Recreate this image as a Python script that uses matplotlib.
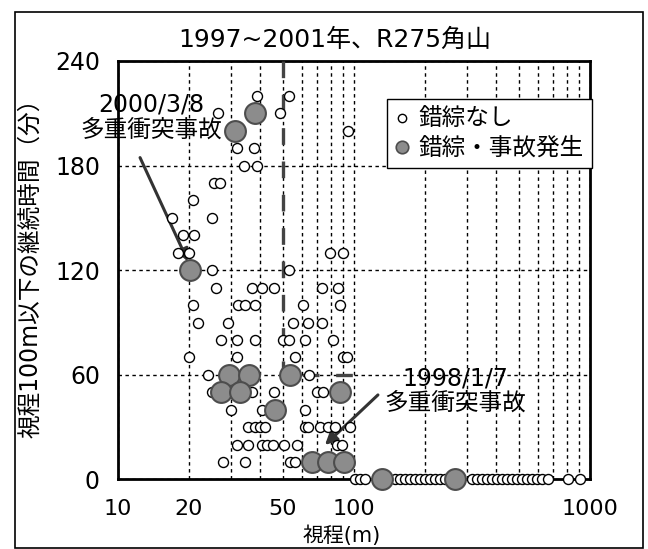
import matplotlib
matplotlib.use('Agg')
import matplotlib.pyplot as plt
from matplotlib.lines import Line2D
from matplotlib.patches import Rectangle
from matplotlib.ticker import NullFormatter

plt.rcParams['font.family'] = ['DejaVu Sans', 'Noto Sans CJK JP']

# 錯綜なし : 視程(m) と 継続時間(分)
nashi_vis = [38.8, 53.0,
             26.5, 48.6,
             94.3,
             31.9, 37.7,
             34.2, 38.8,
             25.5, 27.1,
             20.8,
             16.9, 25.0,
             18.9, 21.0,
             18.0, 20.0, 79.1, 89.8,
             25.0, 53.0,
             26.0, 37.0, 40.8, 45.8, 73.2, 85.6,
             20.8, 32.3, 34.5, 38.1, 60.8, 87.2,
             21.8, 29.3, 55.1, 63.8, 73.2,
             27.3, 31.9, 38.1, 50.0, 53.0, 62.0, 81.5,
             20.0, 31.9, 56.2, 89.8, 93.4,
             24.1, 64.5,
             25.0, 37.0, 45.8, 69.7, 73.9,
             30.1, 40.8, 62.0,
             35.6, 38.1, 40.0, 42.0, 62.0, 63.8, 71.8, 77.6, 83.1, 96.2,
             31.9, 35.6, 40.8, 42.8, 45.4, 50.5, 57.3, 84.7, 88.9,
             27.9, 34.5, 53.6, 56.2,
             101, 106, 111, 149, 157, 164, 173, 181, 190, 200, 210,
             220, 231, 243, 316, 332, 349, 366, 385, 404, 424, 445,
             467, 491, 515, 541, 568, 596, 626, 664, 807, 907]
nashi_dur = [220, 220,
             210, 210,
             200,
             190, 190,
             180, 180,
             170, 170,
             160,
             150, 150,
             140, 140,
             130, 130, 130, 130,
             120, 120,
             110, 110, 110, 110, 110, 110,
             100, 100, 100, 100, 100, 100,
             90, 90, 90, 90, 90,
             80, 80, 80, 80, 80, 80, 80,
             70, 70, 70, 70, 70,
             60, 60,
             50, 50, 50, 50, 50,
             40, 40, 40,
             30, 30, 30, 30, 30, 30, 30, 30, 30, 30,
             20, 20, 20, 20, 20, 20, 20, 20, 20,
             10, 10, 10, 10,
             0, 0, 0, 0, 0, 0, 0, 0, 0, 0, 0,
             0, 0, 0, 0, 0, 0, 0, 0, 0, 0, 0,
             0, 0, 0, 0, 0, 0, 0, 0, 0, 0]

# 錯綜・事故発生
acc_vis = [38.1, 31.3, 20.2, 29.5, 35.9, 53.6, 27.3, 32.9, 87.2, 46.3,
           66.4, 77.6, 90.7, 131, 268]
acc_dur = [210, 200, 120, 60, 60, 60, 50, 50, 50, 40,
           10, 10, 10, 0, 0]

# 閾値 (視程50m, 60分)
thr_vis = [50, 50, 108]
thr_dur = [240, 60, 60]

xtick_vals = [10, 20, 50, 100, 1000]
xgrid_vals = [30, 40, 60, 70, 80, 90, 200, 300, 400, 500, 600, 700, 800, 900]
ytick_vals = [0, 60, 120, 180, 240]

fig = plt.figure(figsize=(6.48, 5.49), dpi=100)
ax = fig.add_axes([0.1821, 0.1266, 0.7284, 0.7623])
ax.set_xscale('log')
ax.set_xlim(10, 1000)
ax.set_ylim(0, 240)

ax.plot(nashi_vis, nashi_dur, 'o', ms=7.2, mfc='white', mec='black',
        mew=1.0, clip_on=False, zorder=4)
ax.plot(acc_vis, acc_dur, 'o', ms=15, mfc='#8c8c8c', mec='#4d4d4d',
        mew=1.5, clip_on=False, zorder=5)
ax.plot(thr_vis, thr_dur, color='#444444', lw=2.4, dashes=(5, 5), zorder=3)

ax.set_xticks(xtick_vals)
ax.set_xticklabels([str(v) for v in xtick_vals])
ax.set_xticks(xgrid_vals, minor=True)
ax.xaxis.set_minor_formatter(NullFormatter())
ax.set_yticks(ytick_vals)
ax.tick_params(which='both', length=0, labelsize=17)
ax.tick_params(axis='x', pad=14, labelsize=16)
ax.tick_params(axis='y', pad=13)
ax.grid(True, which='both', axis='x', color='black', lw=1.0, ls=(0, (2.5, 2.5)))
ax.grid(True, which='major', axis='y', color='black', lw=1.0, ls=(0, (2.5, 2.5)))
for s in ax.spines.values():
    s.set_linewidth(2)

ax.set_xlabel('視程(m)', fontsize=15)
ax.xaxis.set_label_coords(0.475, -0.111)
ax.set_ylabel('視程100m以下の継続時間（分）', fontsize=17)
ax.yaxis.set_label_coords(-0.161, 0.52)
fig.text(335 / 648, 1 - 40 / 549, '1997~2001年、R275角山', ha='center',
         va='center', fontsize=18)

# 注記
ax.text(13.8, 208, '2000/3/8\n多重衝突事故', ha='center', va='center',
        fontsize=17, linespacing=1.05, zorder=6)
ax.annotate('', xy=(19.8, 125), xytext=(12.4, 184.6), annotation_clip=False,
            arrowprops=dict(arrowstyle='-|>', color='#333333', lw=2.2,
                            mutation_scale=18, shrinkA=0, shrinkB=0))
ax.text(268, 51, '1998/1/7\n多重衝突事故', ha='center', va='center',
        fontsize=17, linespacing=1.05, zorder=6)
ax.annotate('', xy=(75.3, 19.8), xytext=(126.3, 48.5),
            arrowprops=dict(arrowstyle='-|>', color='#333333', lw=2.2,
                            mutation_scale=18, shrinkA=0, shrinkB=0))

h1 = Line2D([], [], ls='none', marker='o', ms=6, mfc='white', mec='black', mew=1)
h2 = Line2D([], [], ls='none', marker='o', ms=9, mfc='#8c8c8c', mec='#4d4d4d', mew=1.2)
leg = ax.legend([h1, h2], ['錯綜なし', '錯綜・事故発生'], loc='upper left',
                bbox_to_anchor=(387 / 648, 1 - 99 / 549),
                bbox_transform=fig.transFigure, fontsize=17, fancybox=False,
                edgecolor='black', framealpha=1, handlelength=0.6,
                handletextpad=0.4, borderpad=0.35, labelspacing=0.2,
                borderaxespad=0)
leg.get_frame().set_linewidth(1.0)
leg.set_zorder(7)

fig.patches.append(Rectangle((15 / 648, 1 / 549), 628 / 648, 536 / 549,
                             transform=fig.transFigure, fill=False,
                             ec='black', lw=1.2))

fig.savefig('out.png', dpi=100)
